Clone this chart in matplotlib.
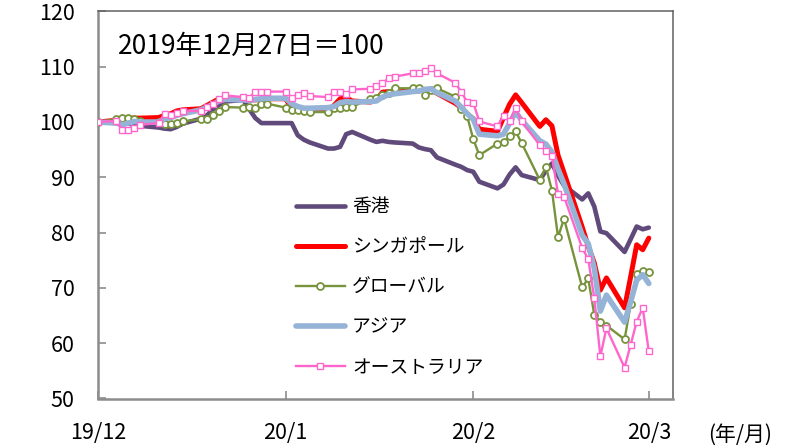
import matplotlib
matplotlib.use('Agg')
import matplotlib.pyplot as plt
import pandas as pd

plt.rcParams['font.family'] = ['Noto Sans CJK JP', 'DejaVu Sans']

dates = pd.bdate_range('2019-12-27', '2020-03-27')

hongkong = [100.0, 100.2, 100.0,
            99.7, 99.5, 99.3,
            99.0, 98.8, 98.7, 99.1, 99.7,
            100.6, 101.2, 102.3, 103.1, 103.7,
            104.0, 102.3, 100.7, 99.8, 99.8,
            99.8, 99.8, 97.6, 96.8, 96.3,
            95.2, 95.2, 95.5, 97.8, 98.2,
            96.8, 96.4, 96.6, 96.4, 96.3,
            96.1, 95.4, 95.1, 94.9, 93.6,
            92.3, 91.9, 91.3, 91.0, 89.2,
            88.0, 88.7, 90.5, 91.8, 90.4,
            89.5, 91.2, 92.5, 90.3, 88.5,
            86.0, 87.1, 84.7, 80.2, 79.9,
            76.5, 78.8, 81.1, 80.6, 80.9]

singapore = [100.0, 100.3, 100.6,
             100.7, 100.7, 100.7,
             100.8, 101.2, 101.5, 102.0, 102.2,
             102.4, 103.0, 103.6, 104.2, 104.3,
             104.2, 104.0, 104.0, 104.1, 104.2,
             104.2, 102.5, 102.2, 102.0, 102.2,
             102.2, 103.0, 104.2, 104.4, 103.8,
             103.6, 104.0, 105.4, 105.5, 105.3,
             105.8, 105.6, 105.9, 105.8, 105.2,
             103.4, 102.6, 101.4, 100.6, 98.7,
             98.3, 100.8, 103.2, 104.9, 103.5,
             99.2, 100.4, 99.3, 94.0, 90.8,
             81.0, 77.5, 74.5, 69.6, 71.8,
             66.4, 72.0, 77.8, 76.9, 79.0]

global_idx = [100.0, 100.5, 100.7,
              100.7, 100.5, 100.2,
              100.0, 99.6, 99.6, 99.9, 100.1,
              100.5, 100.5, 101.3, 102.0, 102.7,
              102.6, 102.8, 102.5, 103.2, 103.3,
              102.6, 102.2, 102.1, 102.0, 101.8,
              101.8, 102.5, 102.5, 102.8, 102.8,
              104.1, 104.3, 104.8, 105.2, 106.1,
              106.1, 106.1, 104.9, 105.8, 106.1,
              104.6, 102.3, 101.0, 96.9, 94.0,
              96.1, 96.4, 97.4, 98.3, 96.2,
              89.5, 91.9, 87.6, 79.2, 82.5,
              70.1, 71.7, 65.1, 63.9, 63.2,
              60.7, 67.0, 72.6, 73.1, 72.9]

asia = [100.0, 99.8, 99.5,
        99.8, 100.1, 100.0,
        100.0, 100.6, 100.8, 101.2, 101.5,
        102.2, 102.7, 103.2, 103.8, 104.1,
        104.0, 103.9, 104.1, 104.2, 104.3,
        104.3, 103.3, 102.8, 102.5, 102.5,
        102.6, 102.8, 103.5, 103.7, 103.6,
        103.7, 103.8, 104.5, 104.9, 105.1,
        105.5, 105.6, 105.9, 106.0, 105.3,
        103.8, 102.7, 101.5, 100.5, 97.8,
        97.5, 97.8, 99.8, 101.8, 100.3,
        96.6, 96.0, 94.6, 91.5, 88.8,
        79.5, 78.0, 73.5, 65.8, 68.7,
        63.8, 67.5, 71.4, 72.4, 70.8]

australia = [100.0, 100.2, 98.5,
             98.5, 98.9, 99.5,
             99.8, 101.5, 101.2, 101.7, 102.0,
             102.0, 102.7, 103.3, 104.2, 104.8,
             104.5, 104.4, 105.5, 105.5, 105.5,
             105.5, 104.4, 104.9, 105.2, 104.7,
             104.5, 105.5, 105.5, 105.1, 105.9,
             106.0, 106.5, 107.0, 107.9, 108.2,
             108.8, 108.8, 109.2, 109.7, 108.8,
             107.1, 105.5, 103.6, 103.5, 100.1,
             99.2, 101.1, 100.1, 102.5, 100.1,
             95.8, 94.8, 93.8, 87.0, 86.5,
             77.2, 75.2, 68.1, 57.6, 62.7,
             55.6, 59.7, 63.9, 66.4, 58.5]

labels = ['香港', 'シンガポール', 'グローバル', 'アジア', 'オーストラリア']
xtick_dates = ['2019-12-27', '2020-01-27', '2020-02-27', '2020-03-27']
xtick_labels = ['19/12', '20/1', '20/2', '20/3']
yticks = [50, 60, 70, 80, 90, 100, 110, 120]

fig = plt.figure(figsize=(7.87, 4.48), dpi=100)
ax = fig.add_axes([98/787, 1-398.5/448, (673-98)/787, (398.5-11.4)/448])

ax.plot(dates, hongkong, color='#604A7B', lw=3.3, label=labels[0], solid_capstyle='round', zorder=2)
ax.plot(dates, singapore, color='#FF0000', lw=3.6, label=labels[1], solid_capstyle='round', zorder=3)
ax.plot(dates, global_idx, color='#77933C', lw=1.7, marker='o', ms=5, mfc='white',
        mec='#77933C', mew=1.3, label=labels[2], zorder=4)
ax.plot(dates, asia, color='#95B3D7', lw=4.0, label=labels[3], solid_capstyle='round', zorder=5)
ax.plot(dates, australia, color='#FF66CC', lw=1.7, marker='s', ms=3.8, mfc='white',
        mec='#FF66CC', mew=1.0, label=labels[4], zorder=6)

ax.set_xlim(pd.Timestamp('2019-12-27'), pd.Timestamp('2020-03-31'))
ax.set_ylim(50, 120)
ax.set_xticks([pd.Timestamp(d) for d in xtick_dates])
ax.set_xticklabels(xtick_labels)
ax.set_yticks(yticks)
ax.set_yticklabels([str(v) for v in yticks])

for s in ['left', 'bottom']:
    ax.spines[s].set_color('#8c8c8c')
    ax.spines[s].set_linewidth(1.8)
for s in ['top', 'right']:
    ax.spines[s].set_color('#606060')
    ax.spines[s].set_linewidth(1.1)

ax.tick_params(axis='both', direction='in', length=6, width=1.2, color='#8c8c8c',
               labelsize=15.5, labelcolor='black')
ax.tick_params(axis='x', pad=17)
ax.tick_params(axis='y', pad=17)

ax.text(0.035, 0.91, '2019年12月27日＝100', transform=ax.transAxes,
        fontsize=19, va='center', ha='left')
fig.text(0.94, 0.03, '(年/月)', fontsize=15, ha='center', va='center')

ax.legend(loc='center left', bbox_to_anchor=(0.344, 0.288), frameon=False,
          fontsize=13.5, handlelength=2.6, handletextpad=0.4, labelspacing=1.02,
          borderpad=0, borderaxespad=0, numpoints=1)

fig.savefig('out.png', dpi=100)
